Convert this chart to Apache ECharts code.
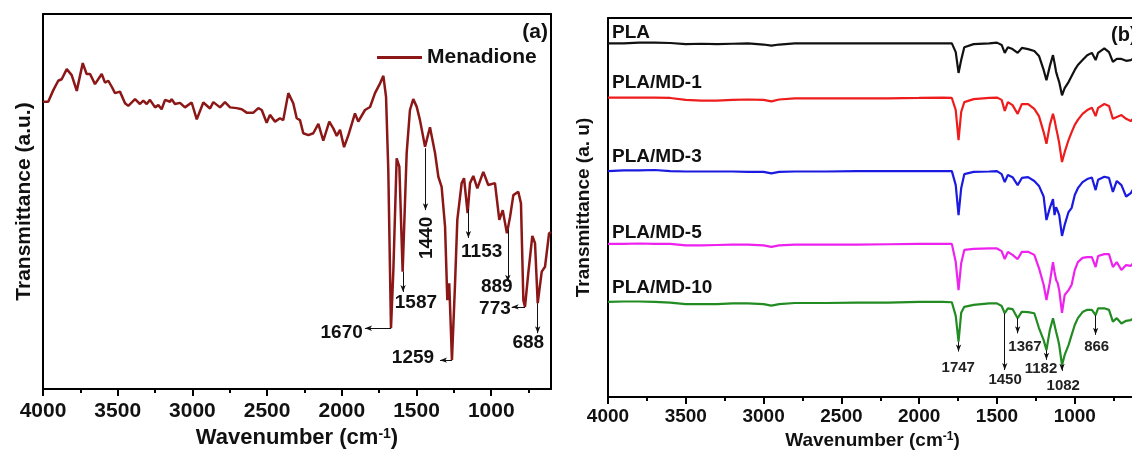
<!DOCTYPE html>
<html><head><meta charset="utf-8">
<script src="https://cdn.jsdelivr.net/npm/echarts@6/dist/echarts.min.js"></script>
<style>html,body{margin:0;padding:0;background:#fff}#c{width:1132px;height:452px}</style>
</head><body><div id="c"></div>
<script>
const FONT = "'Liberation Sans', Arial, Helvetica, sans-serif";

// ---------- DATA ----------
const tickLabels = [1000, 1500, 2000, 2500, 3000, 3500, 4000];
const minorTickValues = [750, 1250, 1750, 2250, 2750, 3250, 3750];

// Panel (a): Menadione
const menadioneWn = [4000,3987,3965,3931,3898,3875,3841,3808,3774,3734,3708,3685,3652,3607,3585,3563,3540,3518,3485,3451,3429,3384,3351,3329,3306,3284,3250,3228,3206,3183,3150,3139,3117,3083,3050,3005,2971,2927,2882,2860,2815,2782,2748,2704,2670,2637,2592,2559,2536,2503,2481,2447,2414,2392,2358,2325,2302,2280,2258,2224,2191,2157,2124,2084,2057,2034,2012,1985,1956,1912,1890,1845,1811,1778,1744,1722,1704,1689,1671,1655,1633,1615,1593,1566,1544,1522,1499,1477,1443,1410,1376,1354,1332,1309,1294,1281,1263,1243,1227,1198,1182,1158,1142,1120,1093,1053,1020,975,946,923,895,874,852,819,801,785,774,752,725,707,689,662,640,613,600];
const menadioneT = [76.6,76.6,76.6,79.7,82.2,82.6,85.3,83.7,79.5,86.9,84.0,84.0,81.3,84.0,81.7,82.2,80.6,78.9,79.3,76.2,75.5,77.3,76.0,76.9,76.0,77.1,75.1,75.7,74.6,77.1,76.6,77.3,76.0,76.3,75.1,76.4,71.9,76.4,74.8,76.5,75.1,76.5,75.1,74.9,74.6,73.7,73.7,74.9,74.4,71.0,73.1,71.3,72.2,71.7,78.9,76.2,72.2,71.7,68.2,67.7,68.2,70.7,66.2,71.3,69.5,67.5,69.1,64.5,67.7,73.5,71.3,74.4,75.2,78.9,81.5,83.5,77.9,58.4,16.2,31.7,61.5,59.3,31.3,62.9,74.4,77.3,75.3,71.7,64.6,69.8,62.9,56.6,53.9,43.3,23.7,28.2,7.7,27.3,45.1,54.9,56.2,46.9,54.9,56.8,53.5,57.9,54.4,54.9,45.1,47.7,41.5,45.9,51.7,52.6,49.5,23.7,21.9,30.9,40.8,38.9,22.9,31.3,32.6,41.5,41.9];

// Panel (b): PLA films (stacked, arbitrary units)
const plaWn = [4000,3900,3800,3700,3600,3500,3400,3300,3200,3100,3000,2950,2900,2800,2600,2400,2200,2000,1850,1790,1765,1747,1730,1710,1650,1550,1500,1470,1450,1430,1400,1367,1340,1300,1260,1230,1200,1182,1160,1140,1130,1120,1110,1100,1082,1065,1040,1020,1000,980,950,920,890,866,850,810,780,755,730,700,670,640,620,600];
const plaT = [93.3,93.3,93.5,93.5,93.4,93.1,93.2,93.1,93.2,93.3,93.0,92.7,93.0,93.3,93.3,93.3,93.3,93.3,93.3,93.3,91.0,85.5,88.9,92.3,93.1,93.3,93.5,92.9,90.8,92.3,91.8,90.8,92.1,91.8,91.3,90.0,86.3,83.6,87.3,90.2,88.1,85.8,84.4,83.1,79.6,81.5,83.1,84.7,86.3,87.6,88.9,90.2,90.8,88.9,90.8,92.0,91.0,88.4,89.2,89.2,88.7,88.9,89.4,89.4];
const md1T = [79.0,79.0,79.0,79.0,78.9,78.4,78.2,78.2,78.4,78.5,78.4,78.0,78.5,78.8,78.8,78.8,78.8,78.9,79.0,78.9,75.7,67.8,75.2,77.8,78.6,78.9,79.0,78.4,75.5,77.8,77.0,74.7,77.3,77.3,76.0,74.1,69.9,66.8,71.8,74.7,73.1,71.0,69.1,67.0,62.0,64.6,67.8,69.9,71.8,73.1,74.7,75.7,76.3,74.1,76.3,77.3,76.8,73.4,73.9,74.4,73.4,72.8,73.6,73.6];
const md3T = [59.6,59.8,59.8,59.9,59.6,59.5,59.5,59.5,59.5,59.4,59.4,59.0,59.4,59.5,59.5,59.6,59.6,59.6,59.6,59.6,55.9,48.0,55.1,58.8,59.4,59.5,59.6,58.8,56.7,58.6,58.0,55.9,57.8,58.0,57.0,55.7,52.9,46.7,49.9,52.2,48.0,50.1,49.1,48.0,42.5,45.4,48.8,49.9,53.3,55.1,56.7,57.5,57.9,54.6,57.3,58.1,57.8,54.1,57.0,55.9,52.9,53.8,55.1,55.1];
const md5T = [40.4,40.4,40.5,40.4,40.4,40.0,40.0,40.1,40.2,40.2,40.0,39.6,40.0,40.2,40.2,40.2,40.3,40.4,40.4,40.4,35.6,28.2,35.3,38.8,39.1,39.2,39.2,38.5,36.4,38.3,37.5,36.4,38.3,38.3,37.5,34.0,29.6,25.6,30.3,35.6,33.0,30.9,30.1,28.2,22.2,26.9,28.2,29.6,33.5,35.6,36.7,36.9,36.9,34.3,37.2,37.7,37.7,34.3,35.6,33.5,34.8,34.6,35.6,35.6];
const md10T = [25.1,25.2,25.2,25.1,24.9,24.5,24.5,24.5,24.7,24.7,24.5,24.1,24.5,24.8,24.8,24.9,24.9,25.1,25.1,25.0,21.4,14.6,22.2,23.8,24.3,24.7,24.7,24.0,22.1,23.4,23.2,20.8,22.5,22.4,22.1,18.2,15.0,12.4,17.7,20.8,19.0,17.2,15.6,13.7,8.4,11.1,13.7,16.4,19.0,20.8,22.4,23.0,23.0,21.6,23.4,23.4,23.0,19.9,20.8,19.4,20.1,20.3,20.8,20.8];
const namesB = ['PLA', 'PLA/MD-1', 'PLA/MD-3', 'PLA/MD-5', 'PLA/MD-10'];
const valuesB = [plaT, md1T, md3T, md5T, md10T];

const peaksA = ['1670', '1587', '1440', '1259', '1153', '889', '773', '688'];
const peaksB = ['1747', '1450', '1367', '1182', '1082', '866'];

// ---------- LAYOUT (annotation placement in data coords) ----------
const colorsB = ['#111111', '#ee1c1c', '#1a1ae0', '#ee22ee', '#228b22'];
const annotA = [ // [arrow start, arrow end, text centre, rotated]
  [[1671, 16.2], [1845, 16.2], [2001, 15.0], 0],
  [[1590, 31.3], [1590, 25.9], [1504, 22.9], 0],
  [[1440, 64.2], [1440, 47.7], [1432, 40.3], 1],
  [[1263, 7.7], [1343, 7.7], [1524, 8.4], 0],
  [[1153, 48.0], [1153, 40.3], [1064, 36.6], 0],
  [[889, 42.5], [889, 28.6], [963, 27.3], 0],
  [[774, 21.9], [863, 21.9], [975, 21.3], 0],
  [[689, 22.9], [689, 14.9], [752, 12.2], 0]
];
const annotB = [
  [[1747, 14.6], [1747, 12.0], [1749, 7.6]],
  [[1450, 22.1], [1450, 7.1], [1448, 4.5]],
  [[1367, 20.8], [1367, 16.8], [1320, 13.3]],
  [[1182, 12.4], [1182, 9.8], [1217, 7.4]],
  [[1082, 8.4], [1082, 6.9], [1074, 3.0]],
  [[866, 21.6], [866, 16.4], [859, 13.3]]
];
const labelPosB = [[3974, 96.2], [3974, 82.8], [3974, 63.4], [3974, 43.4], [3974, 28.7]];

// ---------- CHART ----------
const chart = echarts.init(document.getElementById('c'), null, {renderer: 'canvas'});
const black = '#000';
function supRich(size) {
  return {sup: {fontSize: Math.round(size * 0.62), fontWeight: 'bold', color: '#111', fontFamily: FONT, verticalAlign: 'top', lineHeight: Math.round(size * 0.9)}};
}
function mainX(grid, fs, margin, nameSize, nameGap) {
  return {
    type: 'value', gridIndex: grid, position: 'bottom', min: 600, max: 4000, inverse: true,
    axisLine: {show: true, onZero: false, lineStyle: {color: black, width: 2}},
    axisTick: {show: true, customValues: tickLabels, length: 7, inside: false, lineStyle: {color: black, width: 2}},
    axisLabel: {show: true, customValues: tickLabels, formatter: v => String(v), fontSize: fs, fontWeight: 'bold', color: '#111', margin: margin, fontFamily: FONT},
    splitLine: {show: false},
    name: 'Wavenumber (cm{sup|-1})', nameLocation: 'middle', nameGap: nameGap,
    nameTextStyle: {fontSize: nameSize, fontWeight: 'bold', color: '#111', fontFamily: FONT, rich: supRich(nameSize)}
  };
}
function minorX(grid) {
  return {
    type: 'value', gridIndex: grid, position: 'bottom', min: 600, max: 4000, inverse: true,
    axisLine: {show: false},
    axisTick: {show: true, customValues: minorTickValues, length: 4, lineStyle: {color: black, width: 2}},
    axisLabel: {show: false}, splitLine: {show: false}
  };
}
function topX(grid) {
  return {
    type: 'value', gridIndex: grid, position: 'top', min: 600, max: 4000, inverse: true,
    axisLine: {show: true, onZero: false, lineStyle: {color: black, width: 2}},
    axisTick: {show: false}, axisLabel: {show: false}, splitLine: {show: false}
  };
}
function yAx(grid, pos, name, nameSize, gap) {
  const o = {
    type: 'value', gridIndex: grid, position: pos, min: 0, max: 100,
    axisLine: {show: true, onZero: false, lineStyle: {color: black, width: 2}},
    axisTick: {show: false}, axisLabel: {show: false}, splitLine: {show: false}
  };
  if (name) {
    o.name = name; o.nameLocation = 'middle'; o.nameGap = gap; o.nameRotate = 90;
    o.nameTextStyle = {fontSize: nameSize, fontWeight: 'bold', color: '#111', fontFamily: FONT};
  }
  return o;
}
function arrows(list) {
  return {
    silent: true, symbol: ['none', 'arrow'], symbolSize: [4, 7], animation: false,
    lineStyle: {color: '#111', width: 1, type: 'solid'}, label: {show: false},
    emphasis: {disabled: true},
    data: list.map(a => [{coord: a[0]}, {coord: a[1]}])
  };
}

const seriesB = namesB.map((n, k) => ({
  name: n, type: 'line', xAxisIndex: 3, yAxisIndex: 2, silent: true,
  data: plaWn.map((w, i) => [w, valuesB[k][i]]),
  symbol: 'none', showSymbol: false,
  lineStyle: {color: colorsB[k], width: 2.2}, itemStyle: {color: colorsB[k]},
  markLine: k === 4 ? arrows(annotB) : undefined
}));

chart.setOption({
  animation: false,
  backgroundColor: '#fff',
  textStyle: {fontFamily: FONT},
  grid: [
    {left: 43, top: 14, width: 508, height: 375, containLabel: false, outerBoundsMode: 'none'},
    {left: 608, top: 18, width: 529, height: 379, containLabel: false, outerBoundsMode: 'none'}
  ],
  legend: {
    data: ['Menadione'], left: 377, top: 47, padding: 0, icon: 'rect', itemWidth: 45, itemHeight: 3, itemGap: 6,
    textStyle: {fontSize: 21, fontWeight: 'bold', color: '#111', fontFamily: FONT}, selectedMode: false
  },
  xAxis: [mainX(0, 21, 12, 22, 36), minorX(0), topX(0), mainX(1, 19, 10, 19, 33), minorX(1), topX(1)],
  yAxis: [yAx(0, 'left', 'Transmittance (a.u.)', 21, 8), yAx(0, 'right'), yAx(1, 'left', 'Transmittance (a. u)', 19, 15), yAx(1, 'right')],
  series: [{
    name: 'Menadione', type: 'line', xAxisIndex: 0, yAxisIndex: 0, silent: true,
    data: menadioneWn.map((w, i) => [w, menadioneT[i]]),
    symbol: 'none', showSymbol: false,
    lineStyle: {color: '#8b1717', width: 2.5}, itemStyle: {color: '#8b1717'},
    markLine: arrows(annotA)
  }].concat(seriesB)
});

// text annotations positioned through the axes
const g = [];
function txt(p, text, size, align, rot, color) {
  g.push({type: 'text', x: p[0], y: p[1], rotation: rot || 0, silent: true, z: 100,
    style: {text: text, fontSize: size, fontWeight: 'bold', fontFamily: FONT, fill: color || '#111', align: align, verticalAlign: 'middle'}});
}
const fA = {xAxisIndex: 0, yAxisIndex: 0}, fB = {xAxisIndex: 3, yAxisIndex: 2};
annotA.forEach((a, i) => txt(chart.convertToPixel(fA, a[2]), peaksA[i], 19, 'center', a[3] ? Math.PI / 2 : 0));
annotB.forEach((a, i) => txt(chart.convertToPixel(fB, a[2]), peaksB[i], 15, 'center', 0, '#222'));
labelPosB.forEach((p, i) => txt(chart.convertToPixel(fB, p), namesB[i], 19, 'left'));
txt(chart.convertToPixel(fA, [620, 95.2]), '(a)', 21, 'right');
txt(chart.convertToPixel(fB, [767, 95.3]), '(b)', 20, 'left');
chart.setOption({graphic: g});
</script></body></html>
